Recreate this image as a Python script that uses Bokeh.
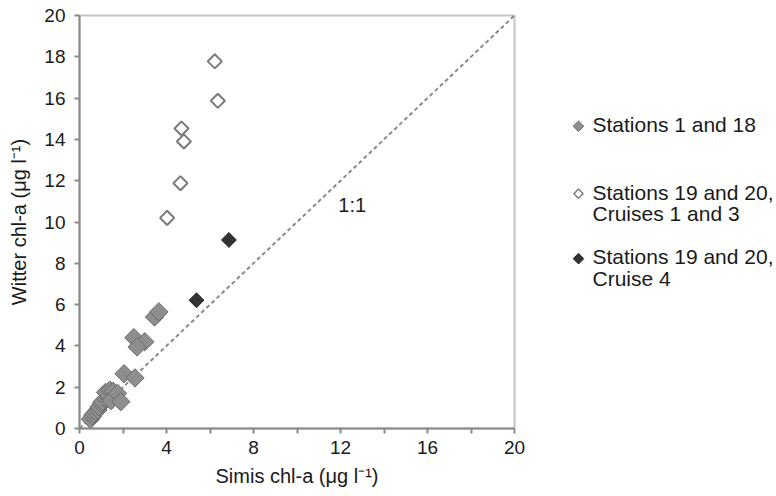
import numpy as np
from bokeh.plotting import figure
from bokeh.layouts import row
from bokeh.models import Range1d, FixedTicker, Label
from bokeh.embed import file_html
from bokeh.resources import INLINE

# --- data (Simis chl-a vs Witter chl-a, µg/l) ---
gray_x = [0.5, 0.6, 0.66, 0.75, 0.85, 0.9, 1.0, 1.05, 1.2, 1.3, 1.2, 1.4, 1.55, 1.45, 1.75, 1.9,
          2.05, 2.55, 2.5, 3.0, 2.65, 3.45, 3.65]
gray_y = [0.45, 0.6, 0.7, 0.8, 0.9, 1.05, 1.2, 1.3, 1.45, 1.55, 1.75, 1.85, 1.8, 1.35, 1.7, 1.3,
          2.65, 2.45, 4.4, 4.2, 3.95, 5.4, 5.65]
open_x = [6.22, 6.36, 4.69, 4.8, 4.64, 4.03]
open_y = [17.78, 15.87, 14.53, 13.9, 11.88, 10.2]
black_x = [6.87, 5.38]
black_y = [9.13, 6.21]
line_xy = [0, 20]
x_ticks = [0, 4, 8, 12, 16, 20]
x_minor = [2, 6, 10, 14, 18]
y_ticks = [0, 2, 4, 6, 8, 10, 12, 14, 16, 18, 20]
legend_lines = [["Stations 1 and 18"],
                ["Stations 19 and 20,", "Cruises 1 and 3"],
                ["Stations 19 and 20,", "Cruise 4"]]

FONT = "Liberation Sans"
TXT = "#1a1a1a"
GRAY_FILL, GRAY_LINE = "#8e8e8e", "#6a6a6a"
OPEN_LINE = "#7a7a7a"
BLACK_FILL, BLACK_LINE = "#333333", "#222222"

p = figure(width=530, height=496, output_backend="svg", toolbar_location=None,
           x_range=Range1d(0, 20), y_range=Range1d(0, 20),
           min_border_left=79, min_border_right=16, min_border_top=15, min_border_bottom=68)
p.grid.visible = False
p.outline_line_color = "#c4c4c4"
p.outline_line_width = 2

for ax in (p.xaxis[0], p.yaxis[0]):
    ax.axis_line_color = "#8a8a8a"
    ax.axis_line_width = 2
    ax.major_tick_line_color = "#8a8a8a"
    ax.minor_tick_line_color = "#8a8a8a"
    ax.major_tick_line_width = 2
    ax.minor_tick_line_width = 2
    ax.major_tick_in = 0
    ax.major_tick_out = 5
    ax.minor_tick_in = 0
    ax.minor_tick_out = 5
    ax.major_label_text_font = FONT
    ax.major_label_text_font_size = "19px"
    ax.major_label_text_color = TXT
    ax.axis_label_text_font = FONT
    ax.axis_label_text_font_size = "20px"
    ax.axis_label_text_font_style = "normal"
    ax.axis_label_text_color = TXT

p.xaxis[0].ticker = FixedTicker(ticks=x_ticks, minor_ticks=x_minor)
p.yaxis[0].ticker = FixedTicker(ticks=y_ticks, minor_ticks=[])
p.xaxis[0].major_label_standoff = 7
p.xaxis[0].axis_label_standoff = 8
p.yaxis[0].major_label_standoff = 9
p.yaxis[0].axis_label_standoff = 11
p.xaxis[0].axis_label = "Simis chl-a (\u03bcg l\u207b\u00b9)"
p.yaxis[0].axis_label = "Witter chl-a (\u03bcg l\u207b\u00b9)"

# 1:1 line
p.line(line_xy, line_xy, line_color="#8a8a8a", line_width=2, line_dash="4 3")

ang = np.pi / 4
p.scatter(gray_x, gray_y, marker="square", size=13, angle=ang,
          fill_color=GRAY_FILL, line_color=GRAY_LINE, line_width=1)
p.scatter(open_x, open_y, marker="square", size=10, angle=ang,
          fill_color="white", line_color=OPEN_LINE, line_width=2)
p.scatter(black_x, black_y, marker="square", size=10.5, angle=ang,
          fill_color=BLACK_FILL, line_color=BLACK_LINE, line_width=1)

p.add_layout(Label(x=12.54, y=10.8, text="1:1", text_align="center", text_baseline="middle",
                   text_font=FONT, text_font_size="20px", text_color=TXT))

# --- legend panel (pixel coordinate space of the page, x 530..776, y from top) ---
lg = figure(width=246, height=496, output_backend="svg", toolbar_location=None,
            x_range=Range1d(530, 776), y_range=Range1d(496, 0),
            x_axis_type=None, y_axis_type=None, min_border=0)
lg.grid.visible = False
lg.outline_line_color = None

mk_x = 578
txt_x = 592
item_y = [131, 212, 290]   # first-line centre of each entry
line_gap = 26
mk_style = [dict(fill_color=GRAY_FILL, line_color=GRAY_LINE, line_width=1, size=7.5),
            dict(fill_color="white", line_color=OPEN_LINE, line_width=1.5, size=6.5),
            dict(fill_color=BLACK_FILL, line_color=BLACK_LINE, line_width=1, size=7.5)]
for lines, y0, st in zip(legend_lines, item_y, mk_style):
    lg.scatter([mk_x], [y0 + 2], marker="square", angle=ang, **st)
    ys = [y0 + i * line_gap for i in range(len(lines))]
    lg.text([txt_x] * len(lines), ys, text=lines, text_align="left", text_baseline="middle",
            text_font={"value": FONT}, text_font_size={"value": "21px"}, text_color=TXT)

layout = row(p, lg, spacing=0)
open("out.html", "w").write(file_html(layout, INLINE))
